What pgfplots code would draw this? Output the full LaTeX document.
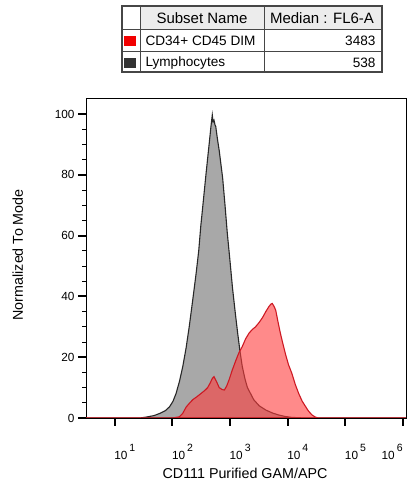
\documentclass[border=0pt]{standalone}
\usepackage{pgfplots}
\pgfplotsset{compat=1.18}
\usepackage{fontspec}
\setmainfont{Liberation Sans}

\definecolor{grayfill}{RGB}{168,168,168}
\definecolor{grayline}{RGB}{40,40,40}
\definecolor{redfill}{RGB}{255,60,60}
\definecolor{redline}{RGB}{205,25,35}
\definecolor{tabline}{RGB}{70,70,70}
\definecolor{tabhead}{RGB}{236,236,236}

\newcommand{\pw}[1]{10\,\raisebox{7.5pt}{\fontsize{10.5}{10}\selectfont #1}}

\begin{document}
\begin{tikzpicture}[x=1pt,y=1pt]
\useasboundingbox (0,0) rectangle (406,486);

% summary table
\fill[tabhead] (140,456.7) rectangle (382,480);
\draw[tabline, line width=0.8pt] (140,414) -- (140,480) (264,414) -- (264,480)
  (122,456.7) -- (382,456.7) (122,434.3) -- (382,434.3);
\draw[tabline, line width=1.3pt] (122,414) rectangle (382,480);
\fill[red!95!black] (124,439.5) rectangle (136,450);
\fill[black!80] (124,417.5) rectangle (136,428);
\begin{scope}[font=\fontsize{15}{16}\selectfont]
\node at (202,468.3) {Subset Name};
\node at (322,468.3) {Median : FL6-A};
\end{scope}
\begin{scope}[font=\fontsize{13.6}{15}\selectfont]
\node[anchor=west] at (142,445.5) {CD34+ CD45 DIM};
\node[anchor=east] at (379,445.5) {3483};
\node[anchor=west] at (142,423.5) {Lymphocytes};
\node[anchor=east] at (379,423.5) {538};
\end{scope}

\begin{axis}[
    at={(86pt,68pt)}, anchor=south west,
    scale only axis, width=320pt, height=320pt,
    xmode=log, log basis x=10,
    xmin=3.1623, xmax=1122018,
    ymin=0, ymax=105.3,
    axis line style={black, line width=0.6pt},
    tick align=outside,
    xtick pos=bottom, ytick pos=left,
    xtick={10,100,1000,10000,100000},
    xticklabels={\pw{1},\pw{2},\pw{3},\pw{4},\pw{5}},
    extra x ticks={1000000},
    extra x tick labels={\pw{6}},
    extra x tick style={xticklabel style={anchor=north east, xshift=7pt}},
    ytick={0,20,40,60,80,100},
    minor ytick={5,10,15,25,30,35,45,50,55,65,70,75,85,90,95},
    major tick length=8pt, minor tick length=4pt,
    every major tick/.append style={line width=2pt, black},
    every minor tick/.append style={line width=0.8pt, black},
    tick label style={font=\fontsize{11.8}{12}\selectfont},
    /pgf/number format/assume math mode=true,
    xticklabel style={anchor=north west, xshift=-4pt, yshift=-15pt},
    xlabel={CD111 Purified GAM/APC},
    ylabel={Normalized To Mode},
    label style={font=\fontsize{14.3}{15}\selectfont},
    xlabel style={at={(axis description cs:0.497,-0.172)}, anchor=center},
    ylabel style={at={(axis description cs:-0.213,0.51)}, anchor=center, rotate=0},
  ]
  % Lymphocytes (gray)
  \addplot[draw=grayline, line width=1.1pt, fill=grayfill] coordinates {
    (3.1623,0) (27,0) (35,0.3) (48,0.8) (60,1.5) (75,2.4) (89,3.7) (102,5.5) (115,8)
    (132,12) (151,17) (172,23) (195,30) (225,39) (257,47.6) (285,55) (309,63)
    (345,72) (380,80) (410,86) (437,91) (465,96) (490,99.7) (505,97.5) (525,98)
    (545,96.5) (562,96) (600,92) (646,88) (741,79) (815,70) (891,61) (990,52)
    (1096,43) (1220,35) (1349,28) (1480,22) (1622,17) (1800,13) (1995,10)
    (2570,6) (3200,4) (4169,2.6) (5500,1.6) (6918,1) (9000,0.5) (11750,0.2)
    (20000,0) (1122018,0)
  } \closedcycle;
  % CD34+ CD45 DIM (red)
  \addplot[draw=redline, line width=1.1pt, fill=redfill, fill opacity=0.6] coordinates {
    (3.1623,0) (100,0) (132,0.4) (150,1.5) (174,3.7) (200,5) (224,6) (265,7)
    (309,8) (360,9) (407,10) (450,11.5) (490,13) (525,13.6) (580,12) (646,10)
    (720,9.4) (794,9.2) (870,10.5) (955,12.5) (1100,16) (1259,19) (1420,21.5)
    (1622,23.5) (1850,26) (2138,28) (2450,29.2) (2754,30) (3200,31.5) (3631,33)
    (4150,35) (4677,36.6) (5100,37.5) (5370,37.7) (5750,36.8) (6166,35.5)
    (6700,32) (7413,28) (8200,24.5) (9120,21) (10300,17.5) (11750,14.7)
    (13500,11) (15490,8) (17800,5.5) (20420,3.7) (23000,2.2) (26300,1)
    (30000,0.3) (33900,0) (1122018,0)
  } \closedcycle;
\end{axis}
\end{tikzpicture}
\end{document}
